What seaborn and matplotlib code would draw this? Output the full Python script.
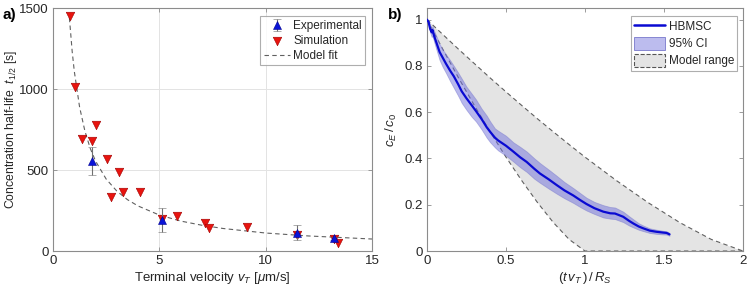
import numpy as np
import pandas as pd
import seaborn as sns
import matplotlib.pyplot as plt
from matplotlib.patches import Patch
from matplotlib.lines import Line2D

# panel a) data
sim_v = [0.8, 1.03, 1.36, 1.85, 2.04, 2.55, 3.12, 2.73, 3.28, 4.07, 5.11, 5.81, 7.13, 7.33, 9.13, 11.46, 13.23, 13.42]
sim_t = [1450, 1010, 690, 680, 780, 566, 488, 335, 366, 362, 198, 216, 175, 142, 150, 99, 72, 51]
exp_v = [1.85, 5.11, 11.46, 13.23]
exp_t = [557, 191, 113, 78]
exp_err = [85, 75, 45, 10]
fit_v = [0.77, 0.9, 1.0, 1.25, 1.5, 1.75, 2.0, 2.5, 3.0, 3.5, 4.0, 5.0, 6.0, 7.0, 8.0, 10.0, 12.0, 15.0]
fit_t = [1440, 1233, 1110, 888, 740, 634, 555, 444, 370, 317, 278, 222, 185, 159, 139, 111, 93, 74]

# panel b) data
hb_x = [0.0, 0.01, 0.02, 0.03, 0.035, 0.045, 0.06, 0.08, 0.10, 0.12, 0.146, 0.17, 0.198, 0.22, 0.25,
        0.283, 0.31, 0.346, 0.378, 0.40, 0.43, 0.45, 0.50, 0.546, 0.59, 0.631, 0.68, 0.715, 0.77,
        0.821, 0.87, 0.926, 0.97, 1.01, 1.06, 1.116, 1.16, 1.19, 1.242, 1.28, 1.306, 1.34, 1.369,
        1.41, 1.453, 1.49, 1.517, 1.535]
hb_y = [1.0, 0.99, 0.96, 0.945, 0.955, 0.93, 0.90, 0.86, 0.835, 0.81, 0.78, 0.755, 0.72, 0.69, 0.66,
        0.63, 0.605, 0.57, 0.535, 0.515, 0.49, 0.478, 0.455, 0.43, 0.405, 0.385, 0.355, 0.335, 0.31,
        0.285, 0.262, 0.24, 0.22, 0.203, 0.185, 0.17, 0.163, 0.162, 0.148, 0.13, 0.119, 0.106, 0.098,
        0.088, 0.083, 0.08, 0.078, 0.072]
ci_lo = [1.0, 0.98, 0.945, 0.925, 0.93, 0.905, 0.87, 0.825, 0.795, 0.77, 0.735, 0.705, 0.67, 0.64, 0.61,
         0.58, 0.56, 0.525, 0.49, 0.47, 0.448, 0.435, 0.412, 0.387, 0.362, 0.342, 0.312, 0.295, 0.27,
         0.248, 0.228, 0.208, 0.19, 0.175, 0.16, 0.145, 0.14, 0.138, 0.125, 0.11, 0.102, 0.092, 0.086,
         0.078, 0.074, 0.072, 0.071, 0.066]
ci_hi = [1.0, 0.995, 0.975, 0.962, 0.972, 0.952, 0.928, 0.895, 0.87, 0.85, 0.825, 0.80, 0.77, 0.745, 0.71,
         0.68, 0.655, 0.615, 0.585, 0.56, 0.53, 0.52, 0.498, 0.47, 0.45, 0.43, 0.40, 0.38, 0.352,
         0.325, 0.298, 0.272, 0.25, 0.23, 0.212, 0.198, 0.19, 0.188, 0.17, 0.15, 0.137, 0.12, 0.11,
         0.098, 0.092, 0.088, 0.085, 0.078]
rng_x = [0.0, 0.1, 0.2, 0.3, 0.4, 0.5, 0.6, 0.7, 0.8, 0.9, 1.0, 1.2, 1.4, 1.6, 1.8, 2.0]
rng_lo = [1.0, 0.872, 0.748, 0.629, 0.515, 0.406, 0.304, 0.209, 0.123, 0.05, 0.0, 0.0, 0.0, 0.0, 0.0, 0.0]
rng_hi = [1.0, 0.936, 0.872, 0.810, 0.748, 0.688, 0.629, 0.571, 0.515, 0.460, 0.406, 0.304, 0.209, 0.123, 0.05, 0.0]

sns.set_theme(style="white")
plt.rcParams['font.family'] = ['Liberation Sans', 'DejaVu Sans']
plt.rcParams['mathtext.fontset'] = 'custom'
plt.rcParams['mathtext.it'] = 'Liberation Sans:italic'
plt.rcParams['mathtext.rm'] = 'Liberation Sans'
plt.rcParams['font.size'] = 9.5

fig = plt.figure(figsize=(7.5, 2.92), dpi=100)
ax1 = fig.add_axes([0.0707, 0.1404, 0.4253, 0.832])
ax2 = fig.add_axes([0.5693, 0.1404, 0.4213, 0.832])

txt = '#262626'
for ax in (ax1, ax2):
    for s in ax.spines.values():
        s.set_color('#8c8c8c')
        s.set_linewidth(0.8)
    ax.tick_params(direction='in', length=3, width=0.6, color='#8c8c8c', labelsize=9.5,
                   labelcolor=txt, top=True, right=True, bottom=True, left=True, pad=3)

# --- panel a
ax1.grid(True, color='#e3e3e3', linewidth=0.7)
ax1.set_axisbelow(True)
sim = pd.DataFrame({'v': sim_v, 't': sim_t})
fit = pd.DataFrame({'v': fit_v, 't': fit_t})
sns.lineplot(data=fit, x='v', y='t', ax=ax1, color='#606060', linestyle=(0, (4, 3)),
             linewidth=0.8, label='Model fit', zorder=2)
sns.scatterplot(data=sim, x='v', y='t', ax=ax1, marker='v', s=38, color='#e8140f',
                edgecolor='#a00000', linewidth=0.4, label='Simulation', zorder=3)
ax1.errorbar(exp_v, exp_t, yerr=exp_err, fmt='^', color='#0a14d8', markersize=6,
             markeredgecolor='#000090', markeredgewidth=0.4, ecolor='#707070',
             elinewidth=0.8, capsize=3, capthick=0.8, label='Experimental', zorder=4)
ax1.set_xlim(0, 15)
ax1.set_ylim(0, 1500)
ax1.set_xticks([0, 5, 10, 15])
ax1.set_yticks([0, 500, 1000, 1500])
ax1.set_xlabel(r'Terminal velocity $v_T$ [$\mu$m/s]', color=txt, fontsize=9.5, labelpad=2)
ax1.set_ylabel(r'Concentration half-life  $t_{1/2}$ [s]', color=txt, fontsize=8.8)
ax1.yaxis.set_label_coords(-0.108, 0.5)
h, l = ax1.get_legend_handles_labels()
order = [l.index('Experimental'), l.index('Simulation'), l.index('Model fit')]
leg1 = ax1.legend([h[i] for i in order], [l[i] for i in order], loc='upper right',
                  bbox_to_anchor=(0.987, 0.975), fontsize=8.5, frameon=True, fancybox=False,
                  edgecolor='#9a9a9a', borderpad=0.3, labelspacing=0.25, handlelength=2.2,
                  handletextpad=0.3, borderaxespad=0.2)
leg1.get_frame().set_linewidth(0.8)
fig.text(0.003, 0.935, 'a)', fontsize=11, fontweight='bold', color='black')

# --- panel b
ax2.fill_between(rng_x, rng_lo, rng_hi, color='#e4e4e4', linewidth=0, zorder=1)
ax2.plot(rng_x, rng_hi, color='#606060', linestyle=(0, (4, 3)), linewidth=0.8, zorder=2)
ax2.plot(rng_x, rng_lo, color='#606060', linestyle=(0, (4, 3)), linewidth=0.8, zorder=2)
ax2.fill_between(hb_x, ci_lo, ci_hi, color='#7070dc', alpha=0.5, linewidth=0.6,
                 edgecolor='#7878cc', zorder=3)
hb = pd.DataFrame({'x': hb_x, 'y': hb_y})
sns.lineplot(data=hb, x='x', y='y', ax=ax2, color='#0a0ad2', linewidth=1.6, zorder=4,
             sort=False, estimator=None)
ax2.set_xlim(0, 2)
ax2.set_ylim(0, 1.05)
ax2.set_xticks([0, 0.5, 1, 1.5, 2])
ax2.set_xticklabels(['0', '0.5', '1', '1.5', '2'])
ax2.set_yticks([0, 0.2, 0.4, 0.6, 0.8, 1])
ax2.set_yticklabels(['0', '0.2', '0.4', '0.6', '0.8', '1'])
ax2.set_xlabel(r'$(t\,v_T\,)\,/\,R_S$', color=txt, fontsize=9.5, labelpad=2)
ax2.set_ylabel(r'$c_E\,/\,c_0$', color=txt, fontsize=9.5, labelpad=4)
handles = [Line2D([], [], color='#0a0ad2', linewidth=1.8),
           Patch(facecolor='#bcbcee', edgecolor='#7878cc', linewidth=0.6),
           Patch(facecolor='#e4e4e4', edgecolor='#555555', linestyle='--', linewidth=0.8)]
leg2 = ax2.legend(handles, ['HBMSC', '95% CI', 'Model range'], loc='upper right',
                  bbox_to_anchor=(0.99, 0.975), fontsize=8.5, frameon=True, fancybox=False,
                  edgecolor='#9a9a9a', borderpad=0.3, labelspacing=0.3, handlelength=2.6,
                  handleheight=1.3, handletextpad=0.3, borderaxespad=0.2)
leg2.get_frame().set_linewidth(0.8)
fig.text(0.517, 0.935, 'b)', fontsize=11, fontweight='bold', color='black')

fig.savefig('out.png', dpi=100)
